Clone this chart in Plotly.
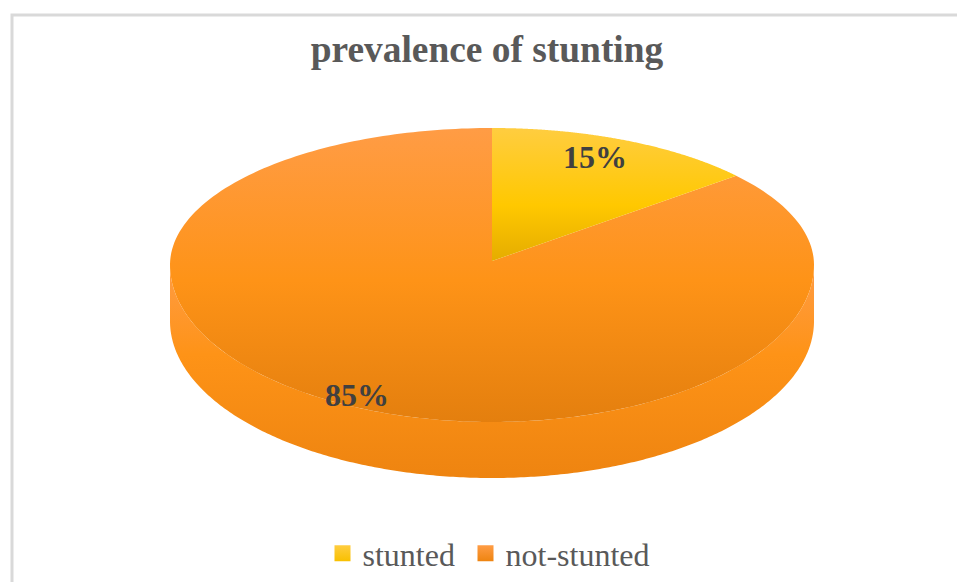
import numpy as np
import plotly.graph_objects as go

categories = ["stunted", "not-stunted"]
shares = [15, 85]
labels = ["15%", "85%"]

W, H = 957, 582
CX, CY, RX, RY_UP, RY_DOWN = 492, 265, 322, 137, 157
APEX_Y = 261
DEPTH = 56
TILT = 0.845
LABEL_X = [594.5, 357]
LABEL_Y = [157, 395]
LEGEND_X = [322.5, 465.5]
LEGEND_IDS = ["legend", "legend2"]


def warp(theta):
    return np.arctan2(TILT * np.sin(theta), np.cos(theta))


def rim(t, drop=0.0):
    c = np.cos(t)
    ry = np.where(c >= 0, RY_UP, RY_DOWN)
    return CX + RX * np.sin(t), CY + drop - ry * c


def wedge(a0, a1):
    t = np.unwrap(warp(np.linspace(a0, a1, 240)))
    x, y = rim(t)
    return np.r_[CX, x, CX], np.r_[APEX_Y, y, APEX_Y]


boundary = shares[0] / sum(shares) * 2 * np.pi

t_front = np.linspace(np.pi / 2, 3 * np.pi / 2, 300)
xa, ya = rim(t_front)
xb, yb = rim(t_front[::-1], DEPTH)
side_x = np.r_[xa, xb, xa[0]]
side_y = np.r_[ya, yb, ya[0]]

fig = go.Figure()

fig.add_trace(go.Scatter(
    x=side_x, y=side_y, mode="none", fill="toself", showlegend=False, hoverinfo="skip",
    fillgradient=dict(type="vertical", start=265, stop=478,
                      colorscale=[[0, "#FF9C45"], [0.42, "#FE9317"], [1, "#EE8410"]])))

x1, y1 = wedge(boundary, 2 * np.pi)
fig.add_trace(go.Scatter(
    x=x1, y=y1, mode="none", fill="toself", showlegend=False, hoverinfo="skip",
    fillgradient=dict(type="vertical", start=128, stop=422,
                      colorscale=[[0, "#FF9C45"], [0.52, "#FE9317"], [1, "#E47F0E"]])))

x0, y0 = wedge(0, boundary)
fig.add_trace(go.Scatter(
    x=x0, y=y0, mode="none", fill="toself", showlegend=False, hoverinfo="skip",
    fillgradient=dict(type="vertical", start=128, stop=261,
                      colorscale=[[0, "#FFCD40"], [0.58, "#FFC800"], [1, "#E5AC00"]])))

legend_colors = [("#FFCD40", "#F8C000"), ("#FF9C45", "#EE8410")]
for name, (top, bottom), lid in zip(categories, legend_colors, LEGEND_IDS):
    fig.add_trace(go.Scatter(
        x=[None], y=[None], mode="markers", name=name, legend=lid, showlegend=True,
        marker=dict(symbol="square", size=17, color=top, line=dict(width=0),
                    gradient=dict(type="vertical", color=bottom))))

for text, lx, ly in zip(labels, LABEL_X, LABEL_Y):
    fig.add_annotation(x=lx, y=ly, text=f"<b>{text}</b>", showarrow=False,
                       font=dict(family="Liberation Serif", size=32, color="#404040"))

fig.add_shape(type="rect", x0=12, y0=15, x1=W + 20, y1=H + 20,
              line=dict(color="#D9D9D9", width=3), fillcolor="rgba(0,0,0,0)", layer="below")

legend_style = dict(orientation="h", xanchor="left", y=1 / H, yanchor="bottom",
                    font=dict(family="Liberation Serif", size=32, color="#595959"),
                    bgcolor="rgba(0,0,0,0)", itemsizing="trace")

fig.update_layout(
    width=W, height=H, margin=dict(l=0, r=0, t=0, b=0),
    paper_bgcolor="white", plot_bgcolor="white",
    title=dict(text="<b>prevalence of stunting</b>", x=487 / W, xanchor="center",
               y=1 - 49 / H, yanchor="middle",
               font=dict(family="Liberation Serif", size=37.4, color="#595959")),
    legend=dict(x=LEGEND_X[0] / W, **legend_style),
    legend2=dict(x=LEGEND_X[1] / W, **legend_style),
    xaxis=dict(range=[0, W], visible=False, fixedrange=True),
    yaxis=dict(range=[H, 0], visible=False, fixedrange=True),
)

fig.write_html("out.html", config=dict(displayModeBar=False),
               post_script="document.body.style.margin='0';")
